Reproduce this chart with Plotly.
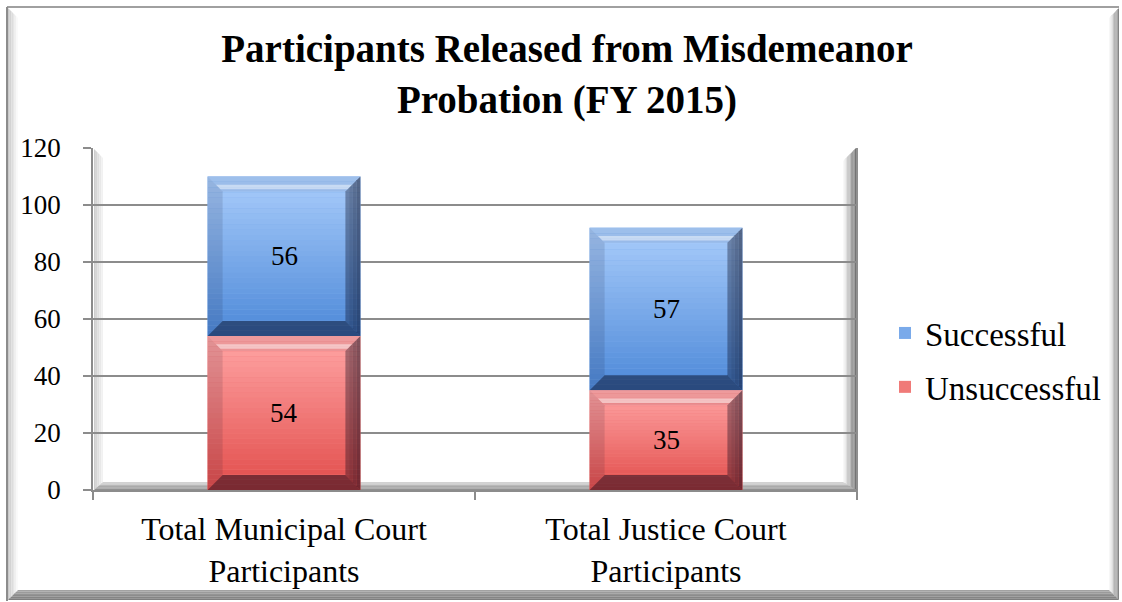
import plotly.graph_objects as go

# ---- data ----
categories = ["Total Municipal Court<br>Participants", "Total Justice Court<br>Participants"]
unsuccessful = [54, 35]
successful = [56, 57]
y_ticks = [0, 20, 40, 60, 80, 100, 120]

# ---- geometry (pixels) ----
W, H = 1122, 602
L, R, T, B = 93, 857, 148, 490
Y_MAX = 120
X_RANGE = (-0.5, 1.5)
BAR_W = 0.4
BEVEL_PX = 15
FONT = "Liberation Serif"

PX_PER_X = (R - L) / (X_RANGE[1] - X_RANGE[0])
PX_PER_Y = (B - T) / Y_MAX
BX = BEVEL_PX / PX_PER_X
BY = BEVEL_PX / PX_PER_Y


def px_x(x):
    return (x - L) / (R - L)


def px_y(y):
    return (B - y) / (B - T)


def hex_rgb(h):
    h = h.lstrip("#")
    return tuple(int(h[i:i + 2], 16) for i in (0, 2, 4))


def mix(c1, c2, t):
    a, b = hex_rgb(c1), hex_rgb(c2)
    return "rgb(%d,%d,%d)" % tuple(round(a[i] + (b[i] - a[i]) * t) for i in range(3))


def poly_path(points):
    return "M " + " L ".join("%.5f,%.5f" % p for p in points) + " Z"


def lerp(p, q, t):
    return (p[0] + (q[0] - p[0]) * t, p[1] + (q[1] - p[1]) * t)


shapes = []


def bands(outer, inner, colors, n, xref, yref, layer, conv=None, t0=0.0, t1=1.0):
    """Stripes between an outer edge and an inner edge, colours lerped across."""
    (o0, o1), (i0, i1) = outer, inner
    for k in range(n):
        a = t0 + (t1 - t0) * k / n
        b = t0 + (t1 - t0) * (k + 1) / n
        pts = [lerp(o0, i0, a), lerp(o1, i1, a), lerp(o1, i1, b), lerp(o0, i0, b)]
        if conv:
            pts = [conv(p) for p in pts]
        c = colors((k + 0.5) / n)
        shapes.append(dict(type="path", path=poly_path(pts), xref=xref, yref=yref,
                           fillcolor=c, line=dict(width=0), layer=layer))


def to_paper(p):
    return (px_x(p[0]), px_y(p[1]))


def pix_line(x0, y0, x1, y1, color, width, layer="below"):
    shapes.append(dict(type="line", xref="paper", yref="paper",
                       x0=px_x(x0), y0=px_y(y0), x1=px_x(x1), y1=px_y(y1),
                       line=dict(color=color, width=width), layer=layer))


# ---- outer frame with bevelled edges ----
bands(((8, 8), (8, 600)), ((18, 18), (18, 590)),
      lambda t: mix("#c4c4c4", "#ffffff", t), 6, "paper", "paper", "below", to_paper)
bands(((1119, 8), (1119, 600)), ((1109, 18), (1109, 590)),
      lambda t: mix("#7c7c7c", "#ffffff", t), 8, "paper", "paper", "below", to_paper)
bands(((8, 600), (1119, 600)), ((18, 590), (1109, 590)),
      lambda t: mix("#7a7a7a", "#a6a6a6", t), 6, "paper", "paper", "below", to_paper)
pix_line(7, 7, 1119, 7, "#a0a0a0", 2)
pix_line(7, 7, 7, 601, "#8c8c8c", 2)

# ---- back wall: side walls and floor ----
bands(((94, 149), (94, 490)), ((103, 158), (103, 482)),
      lambda t: mix("#c8c8c8", "#f6f6f6", t), 5, "paper", "paper", "between", to_paper)
bands(((856, 148), (856, 490)), ((843, 161), (843, 482)),
      lambda t: mix("#6e6e6e", "#ffffff", t), 10, "paper", "paper", "between", to_paper)
bands(((94, 490), (857, 490)), ((103, 482), (843, 482)),
      lambda t: mix("#8a8a8a", "#d8d8d8", t), 6, "paper", "paper", "between", to_paper)
pix_line(857, 148, 857, 497, "#6a6a6a", 1.5, "between")

# ---- bevelled stacked bars ----
# listed top-to-bottom so the legend reads Successful, Unsuccessful;
# each segment's base is the sum of the segments beneath it
series = [
    ("Successful", successful, unsuccessful, "#4c88d8", "#aacdfb", "#7aaaea"),
    ("Unsuccessful", unsuccessful, [0] * len(categories), "#e24c4a", "#ffa6a6", "#f07a78"),
]

fig = go.Figure()
annotations = []
for name, vals, base, c_bot, c_top, c_mid in series:
    fig.add_trace(go.Bar(
        x=list(range(len(categories))), y=vals, base=base, name=name,
        legendgroup=name,
        width=BAR_W, marker=dict(color=c_mid, line=dict(width=0)),
        hoverinfo="skip",
    ))
    for i, v in enumerate(vals):
        x0, x1 = i - BAR_W / 2, i + BAR_W / 2
        y0, y1 = base[i], base[i] + v
        # face: vertical gradient
        bands(((x0, y0), (x1, y0)), ((x0, y1), (x1, y1)),
              lambda t, a=c_bot, b=c_top: mix(a, b, t), 30, "x", "y", "above")
        # bevel edges (shading overlays)
        top_o = ((x0, y1), (x1, y1))
        top_i = ((x0 + BX, y1 - BY), (x1 - BX, y1 - BY))
        bands(top_o, top_i, lambda t: "rgba(40,40,60,0.08)", 1, "x", "y", "above")
        bands(top_o, top_i, lambda t: "rgba(255,255,255,0.45)", 1, "x", "y", "above", t0=0.55, t1=0.85)
        bands(((x0, y0), (x0, y1)), ((x0 + BX, y0 + BY), (x0 + BX, y1 - BY)),
              lambda t: "rgba(20,20,40,0.12)", 1, "x", "y", "above")
        bands(((x1, y0), (x1, y1)), ((x1 - BX, y0 + BY), (x1 - BX, y1 - BY)),
              lambda t: "rgba(0,0,20,%.3f)" % (0.52 - 0.2 * t), 4, "x", "y", "above")
        bands(((x0, y0), (x1, y0)), ((x0 + BX, y0 + BY), (x1 - BX, y0 + BY)),
              lambda t: "rgba(0,0,20,0.46)", 1, "x", "y", "above")
        annotations.append(dict(x=i, y=y0 + v / 2, xref="x", yref="y", text=str(v),
                                showarrow=False, font=dict(family=FONT, size=27, color="black")))

fig.update_layout(
    width=W, height=H,
    margin=dict(l=L, r=W - R, t=T, b=H - B, pad=0),
    paper_bgcolor="white", plot_bgcolor="white",
    barmode="overlay",
    showlegend=True,
    title=dict(text="<b>Participants Released from Misdemeanor<br>Probation (FY 2015)</b>",
               x=567 / W, xanchor="center", xref="container",
               y=1 - 62 / H, yanchor="top", yref="container",
               font=dict(family=FONT, size=39, color="black")),
    legend=dict(x=px_x(885), y=px_y(360), xanchor="left", yanchor="middle",
                traceorder="grouped", tracegroupgap=8,
                font=dict(family=FONT, size=33, color="black"),
                bgcolor="rgba(0,0,0,0)"),
    xaxis=dict(range=list(X_RANGE), tickvals=list(range(len(categories))), ticktext=categories,
               ticks="", showgrid=False, zeroline=False, showline=True,
               linecolor="#8c8c8c", linewidth=1.5,
               minor=dict(tick0=0.5, dtick=1, ticks="outside", ticklen=8,
                          tickcolor="#8c8c8c", tickwidth=1.5, showgrid=False),
               tickfont=dict(family=FONT, size=32, color="black"),
               ticklabelstandoff=10, fixedrange=True),
    yaxis=dict(range=[0, Y_MAX], tickvals=y_ticks, ticks="outside", ticklen=8,
               tickcolor="#8c8c8c", tickwidth=1.5, showline=True,
               linecolor="#8c8c8c", linewidth=1.5, showgrid=True,
               gridcolor="#8c8c8c", gridwidth=1.5, zeroline=False,
               tickfont=dict(family=FONT, size=27, color="black"),
               ticklabelstandoff=17, fixedrange=True),
    shapes=shapes,
    annotations=annotations,
)

fig.write_html("out.html", config=dict(displayModeBar=False))
